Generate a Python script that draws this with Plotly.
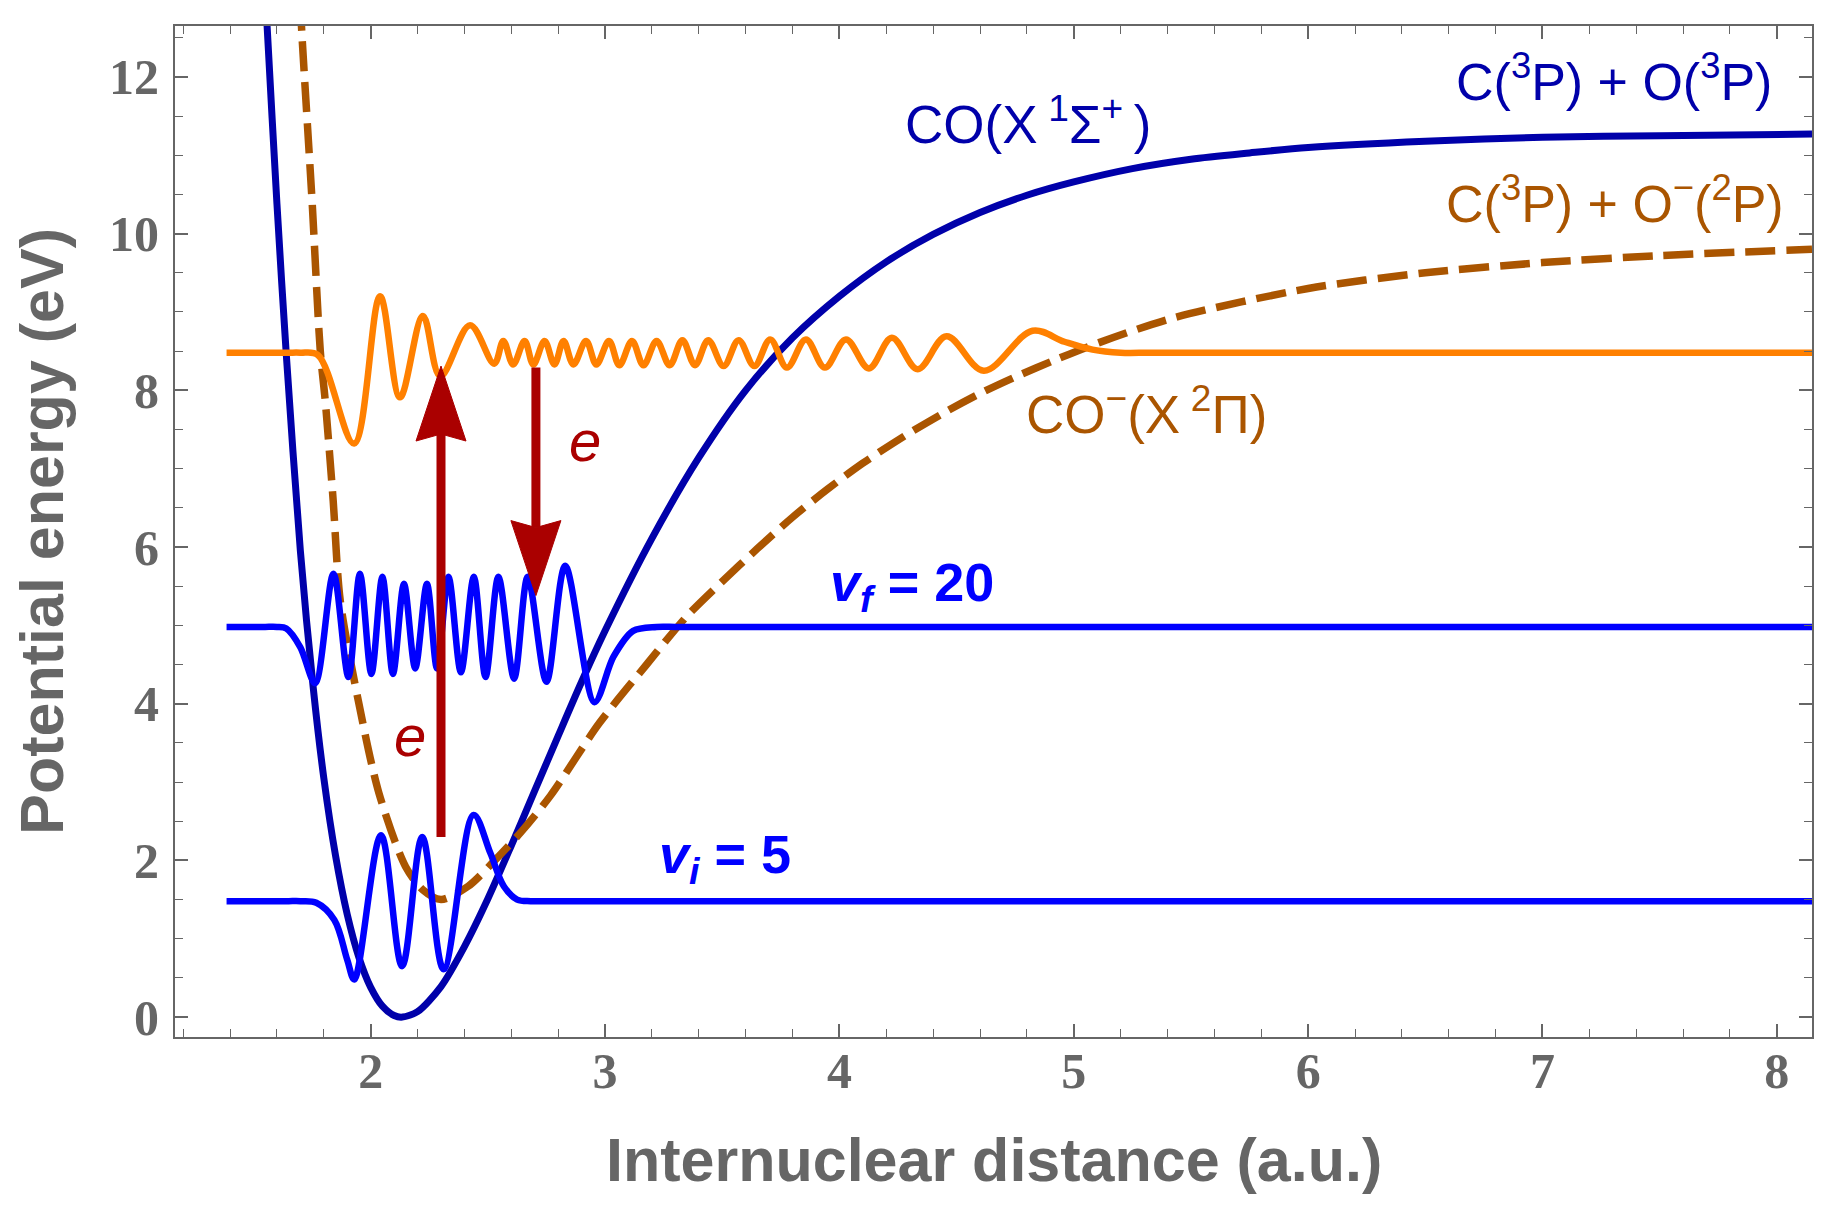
import plotly.graph_objects as go

# ---------------- data ----------------
# Ground state potential CO(X 1Sigma+)
co_x = [1.535, 1.558, 1.60, 1.64, 1.70, 1.755, 1.80, 1.85, 1.90, 1.95, 2.00, 2.05, 2.10, 2.135,
        2.20, 2.30, 2.40, 2.50, 2.60, 2.70, 2.80, 2.90, 3.00, 3.20, 3.40, 3.60, 3.80, 4.00,
        4.20, 4.40, 4.60, 4.80, 5.00, 5.25, 5.50, 5.75, 6.00, 6.50, 7.00, 7.50, 8.15]
co_y = [14.0, 12.65, 10.38, 8.45, 5.95, 4.20, 3.05, 2.06, 1.31, 0.76, 0.38, 0.14, 0.02, 0.00,
        0.07, 0.39, 0.90, 1.51, 2.19, 2.89, 3.59, 4.28, 4.93, 6.11, 7.14, 8.00, 8.67, 9.20,
        9.64, 9.99, 10.27, 10.49, 10.66, 10.83, 10.95, 11.03, 11.10, 11.18, 11.23, 11.25, 11.27]

# Anion potential CO-(X 2Pi)
anion_x = [1.69, 1.707, 1.75, 1.785, 1.806, 1.84, 1.87, 1.947, 2.035, 2.149, 2.224, 2.30,
           2.416, 2.52, 2.644, 2.768, 2.975, 3.18, 3.35, 3.50, 3.65, 3.80, 3.95, 4.10,
           4.285, 4.45, 4.60, 4.75, 4.93, 5.10, 5.42, 6.00, 6.50, 7.00, 7.50, 8.15]
anion_y = [13.5, 12.52, 10.41, 8.50, 7.87, 6.59, 5.32, 4.04, 2.86, 1.92, 1.62, 1.50,
           1.67, 1.97, 2.37, 2.83, 3.75, 4.51, 5.12, 5.56, 5.98, 6.38, 6.74, 7.07,
           7.43, 7.72, 7.96, 8.17, 8.40, 8.60, 8.92, 9.30, 9.50, 9.63, 9.72, 9.80]

# Initial vibrational wavefunction v_i = 5
vi_x = [1.385, 1.45, 1.50, 1.55, 1.60, 1.65, 1.70, 1.768, 1.845, 1.90, 1.930, 2.044,
        2.134, 2.220, 2.311, 2.439, 2.511, 2.568, 2.625, 2.683, 2.74, 2.80, 2.86,
        3.0, 3.5, 4.5, 6.0, 8.15]
vi_y = [1.48, 1.48, 1.48, 1.48, 1.48, 1.48, 1.48, 1.46, 1.24, 0.73, 0.48, 2.32,
        0.65, 2.30, 0.61, 2.58, 2.09, 1.67, 1.50, 1.48, 1.48, 1.48, 1.48,
        1.48, 1.48, 1.48, 1.48, 1.48]

# Final vibrational wavefunction v_f = 20
vf_x = [1.385, 1.45, 1.50, 1.55, 1.60, 1.64, 1.70, 1.763, 1.841, 1.905, 1.954, 2.003,
        2.05, 2.095, 2.142, 2.19, 2.24, 2.283, 2.332, 2.385, 2.44, 2.49, 2.545, 2.612,
        2.67, 2.75, 2.83, 2.955, 3.036, 3.12, 3.22, 3.30, 3.40, 3.6, 4.5, 6.0, 8.15]
vf_y = [4.98, 4.98, 4.98, 4.98, 4.98, 4.96, 4.72, 4.26, 5.66, 4.34, 5.66, 4.38,
        5.62, 4.38, 5.53, 4.45, 5.53, 4.45, 5.62, 4.40, 5.62, 4.34, 5.62, 4.32,
        5.62, 4.28, 5.76, 4.02, 4.60, 4.93, 4.98, 4.98, 4.98, 4.98, 4.98, 4.98, 4.98]

# Resonance (anion) wavefunction
res_x = [1.385, 1.45, 1.50, 1.55, 1.60, 1.65, 1.70, 1.775, 1.929, 2.040, 2.125, 2.223,
         2.297, 2.424, 2.527, 2.566, 2.608, 2.657, 2.694, 2.742, 2.784, 2.823, 2.865,
         2.919, 2.963, 3.017, 3.061, 3.115, 3.164, 3.220, 3.276, 3.330, 3.384, 3.440,
         3.506, 3.570, 3.637, 3.705, 3.776, 3.857, 3.938, 4.028, 4.126, 4.224, 4.334,
         4.457, 4.616, 4.824, 4.96, 5.08, 5.20, 5.32, 5.45, 6.0, 7.0, 8.15]
res_y = [8.48, 8.48, 8.48, 8.48, 8.48, 8.48, 8.48, 8.45, 7.32, 9.20, 7.91, 8.95,
         8.18, 8.83, 8.34, 8.63, 8.33, 8.63, 8.33, 8.63, 8.33, 8.63, 8.33,
         8.63, 8.33, 8.63, 8.32, 8.63, 8.32, 8.63, 8.32, 8.64, 8.32, 8.64,
         8.31, 8.64, 8.31, 8.65, 8.29, 8.65, 8.29, 8.65, 8.28, 8.67, 8.27,
         8.69, 8.25, 8.76, 8.62, 8.52, 8.48, 8.48, 8.48, 8.48, 8.48, 8.48]

# Electron capture / emission arrows (x, start energy, end energy)
arrow_x = [2.30, 2.705]
arrow_from = [2.30, 8.29]
arrow_to = [8.31, 5.38]

x_ticks = [2, 3, 4, 5, 6, 7, 8]
y_ticks = [0, 2, 4, 6, 8, 10, 12]

# ---------------- style ----------------
W, H = 1822, 1198
M_L, M_R, M_T, M_B = 167, 18, 18, 169
X_RANGE = [1.165, 8.15]
Y_RANGE = [-0.254, 12.65]
GRAY = "#666666"
DARKBLUE = "#0000AA"
BROWN = "#AA5500"
ORANGE = "#FF8000"
BLUE = "#0000FF"
DARKRED = "#AA0000"

fig = go.Figure()

fig.add_trace(go.Scatter(x=co_x, y=co_y, mode="lines",
                         line=dict(color=DARKBLUE, width=7, shape="spline", smoothing=0.8)))
fig.add_trace(go.Scatter(x=anion_x, y=anion_y, mode="lines",
                         line=dict(color=BROWN, width=7.5, dash="30px,11px",
                                   shape="spline", smoothing=0.8)))
fig.add_trace(go.Scatter(x=res_x, y=res_y, mode="lines",
                         line=dict(color=ORANGE, width=6.5, shape="spline", smoothing=1.0)))
fig.add_trace(go.Scatter(x=vf_x, y=vf_y, mode="lines",
                         line=dict(color=BLUE, width=6.5, shape="spline", smoothing=0.9)))
fig.add_trace(go.Scatter(x=vi_x, y=vi_y, mode="lines",
                         line=dict(color=BLUE, width=6.5, shape="spline", smoothing=1.0)))

# arrows drawn as shapes (shaft + notched head), sized in pixels
px_x = (X_RANGE[1] - X_RANGE[0]) / (W - M_L - M_R)
px_y = (Y_RANGE[1] - Y_RANGE[0]) / (H - M_T - M_B)
head_half_w = 25 * px_x
head_len = 75 * px_y
notch = 7 * px_y
shapes = []
for xa, y0, y1 in zip(arrow_x, arrow_from, arrow_to):
    s = 1 if y1 > y0 else -1
    yb = y1 - s * head_len
    shapes.append(dict(type="line", x0=xa, x1=xa, y0=y0, y1=yb + s * notch,
                       line=dict(color=DARKRED, width=9), layer="above"))
    path = (f"M {xa},{y1} L {xa - head_half_w},{yb} L {xa},{yb + s * notch} "
            f"L {xa + head_half_w},{yb} Z")
    shapes.append(dict(type="path", path=path, fillcolor=DARKRED,
                       line=dict(color=DARKRED, width=1), layer="above"))

LBL = "Liberation Sans, Arial, sans-serif"
NB = "\u00a0"
annotations = [
    dict(x=4.805, y=11.45, text="CO(X\u2009<sup>1</sup>Σ<sup>+</sup>\u2009)",
         font=dict(family=LBL, size=53, color=DARKBLUE)),
    dict(x=7.305, y=11.98, text="C(<sup>3</sup>P) + O(<sup>3</sup>P)",
         font=dict(family=LBL, size=52, color=DARKBLUE)),
    dict(x=7.308, y=10.43, text="C(<sup>3</sup>P) + O<sup>−</sup>(<sup>2</sup>P)",
         font=dict(family=LBL, size=52, color=BROWN)),
    dict(x=5.31, y=7.74, text="CO<sup>−</sup>(X\u2009<sup>2</sup>Π)",
         font=dict(family=LBL, size=53, color=BROWN)),
    dict(x=4.31, y=5.50, text=f"<b><i>v<sub>f</sub></i>{NB}={NB}20</b>",
         font=dict(family=LBL, size=54, color=BLUE)),
    dict(x=3.51, y=2.03, text=f"<b><i>v<sub>i</sub></i>{NB}={NB}5</b>",
         font=dict(family=LBL, size=54, color=BLUE)),
    dict(x=2.169, y=3.60, text="<i>e</i>", font=dict(family=LBL, size=58, color=DARKRED)),
    dict(x=2.915, y=7.36, text="<i>e</i>", font=dict(family=LBL, size=58, color=DARKRED)),
]
for a in annotations:
    a.update(xref="x", yref="y", showarrow=False, xanchor="center", yanchor="middle")

TITLE_FONT = dict(family=LBL, size=61, color=GRAY, weight="bold")
annotations.append(dict(x=0.5, y=-0.1216, xref="paper", yref="paper",
                        text="Internuclear distance (a.u.)", showarrow=False,
                        xanchor="center", yanchor="middle", font=TITLE_FONT))
annotations.append(dict(x=-0.0817, y=0.5, xref="paper", yref="paper",
                        text="Potential energy (eV)", showarrow=False, textangle=-90,
                        xanchor="center", yanchor="middle", font=TITLE_FONT))

TICK_FONT = dict(family="Liberation Serif, Times New Roman, serif", size=50,
                 color=GRAY, weight="bold")
axis_common = dict(showline=True, linecolor=GRAY, linewidth=2, mirror="ticks",
                   ticks="inside", tickcolor=GRAY, tickwidth=1.6, ticklen=13,
                   showgrid=False, zeroline=False, tickfont=TICK_FONT)

fig.update_layout(
    width=W, height=H,
    margin=dict(l=M_L, r=M_R, t=M_T, b=M_B),
    plot_bgcolor="white", paper_bgcolor="white",
    showlegend=False,
    shapes=shapes,
    annotations=annotations,
    xaxis=dict(range=X_RANGE, tickvals=x_ticks, ticktext=[str(v) for v in x_ticks],
               ticklabelstandoff=-11,
               minor=dict(dtick=0.2, tick0=0, ticks="inside", ticklen=8,
                          tickcolor=GRAY, tickwidth=1.4),
               **axis_common),
    yaxis=dict(range=Y_RANGE, tickvals=y_ticks, ticktext=[str(v) for v in y_ticks],
               ticklabelstandoff=4,
               minor=dict(dtick=0.5, tick0=0, ticks="inside", ticklen=8,
                          tickcolor=GRAY, tickwidth=1.4),
               **axis_common),
)

fig.write_html("out.html")
